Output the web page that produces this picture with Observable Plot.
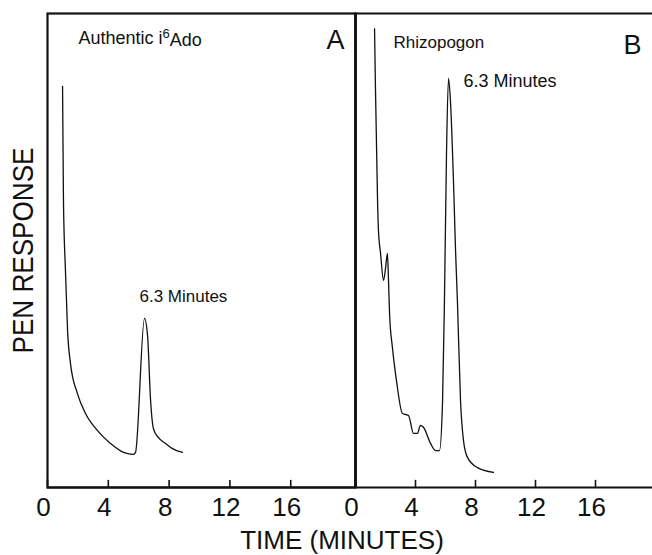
<!DOCTYPE html>
<html>
<head>
<meta charset="utf-8">
<script src="https://cdn.jsdelivr.net/npm/d3@7"></script>
<script src="https://cdn.jsdelivr.net/npm/@observablehq/plot@0.6"></script>
<style>
  body { margin: 0; background: #fff; }
  #wrap { position: relative; width: 652px; height: 555px; font-family: "Liberation Sans", Arial, sans-serif; color: #111; overflow: hidden; }
  #wrap svg { position: absolute; top: 0; overflow: visible; }
  #xlabel { position: absolute; left: 192px; width: 300px; top: 527px; text-align: center; font-size: 26px; line-height: 26px; white-space: nowrap; }
</style>
</head>
<body>
<div id="wrap"><div id="xlabel"></div></div>
<script>
// ---- data ----
const timeA = [0.99, 1.05, 1.18, 1.32, 1.51, 1.97, 2.5, 3.29, 4.14, 5.0, 5.66, 5.79, 6.38, 6.58, 6.78, 6.97, 7.3, 7.76, 8.22, 8.88];
const respA = [84.6, 60.5, 45.8, 33.1, 26.2, 19.8, 15.6, 12.0, 9.3, 7.4, 7.0, 7.4, 35.7, 32.1, 18.4, 12.4, 10.5, 9.3, 8.2, 7.4];

const timeB = [1.27, 1.33, 1.47, 1.53, 1.67, 1.87, 2.0, 2.13, 2.2, 2.27, 2.47, 2.73, 3.13, 3.53, 3.87, 4.13, 4.33, 4.53, 5.0, 5.33, 5.6, 5.8, 5.93, 6.07, 6.2, 6.33, 6.53, 6.67, 6.8, 7.0, 7.2, 7.47, 8.13, 9.2];
const respB = [96.8, 84.4, 60.5, 54.2, 49.4, 43.7, 46.2, 49.4, 43.7, 36.7, 29.3, 22.6, 15.6, 15.2, 11.4, 11.4, 13.1, 12.7, 9.3, 7.8, 7.8, 17.7, 39.5, 71.1, 86.3, 81.6, 64.8, 50.0, 38.8, 18.4, 9.9, 6.3, 4.2, 3.2];

const tickValues = [0, 4, 8, 12, 16];
const yRange = [0, 100];
const panelLetters = ["A", "B"];
const panelTitles = ["Authentic i6Ado", "Rhizopogon"];
const superscriptPart = {text: panelTitles[0], before: "Authentic i", sup: "6", after: "Ado"};
const peakLabel = "6.3 Minutes";
const yLabel = "PEN RESPONSE";
const xLabel = "TIME (MINUTES)";

const FONT = "\"Liberation Sans\", Arial, sans-serif";

const dataA = timeA.map((t, i) => ({t, v: respA[i]}));
const dataB = timeB.map((t, i) => ({t, v: respB[i]}));
const peakA = d3.greatest(dataA.filter(d => d.t > 4), d => d.v);
const peakB = d3.greatest(dataB.filter(d => d.t > 4), d => d.v);

function axisMarks() {
  return [
    Plot.ruleY([yRange[0]], {strokeWidth: 2.2, stroke: "#111"}),
    Plot.ruleX(tickValues, {y1: 0, y2: 1.5, strokeWidth: 1.6, stroke: "#111"}),
    Plot.axisX(tickValues, {tickSize: 0, tickPadding: 10, fontSize: 26, dx: -4, tickFormat: d => String(d), label: null, fill: "#111"})
  ];
}

const common = {
  height: 555,
  marginTop: 13,
  marginBottom: 68,
  y: {domain: yRange, axis: null},
  style: {background: "transparent", fontFamily: FONT, overflow: "visible"}
};

const plotA = Plot.plot({
  ...common,
  width: 355,
  marginLeft: 47,
  marginRight: 0,
  x: {domain: [0, 20.26]},
  marks: [
    Plot.frame({stroke: "#111", strokeWidth: 2.2}),
    ...axisMarks(),
    Plot.line(dataA, {x: "t", y: "v", curve: "monotone-x", strokeWidth: 1.3, stroke: "#111"}),
    Plot.text([peakA], {x: "t", y: "v", text: () => peakLabel, textAnchor: "start", lineAnchor: "bottom", dx: -5, dy: -16, fontSize: 17, fill: "#111"}),
    Plot.text([panelTitles[0]], {text: d => d, frameAnchor: "top-left", textAnchor: "start", lineAnchor: "bottom", dx: 31, dy: 30, fontSize: 18, fill: "#111"}),
    Plot.text([panelLetters[0]], {text: d => d, frameAnchor: "top-right", textAnchor: "end", lineAnchor: "bottom", dx: -11, dy: 35, fontSize: 27, fill: "#111"}),
    Plot.text([yLabel], {text: d => d, frameAnchor: "left", rotate: -90, textAnchor: "middle", lineAnchor: "middle", dx: -24, fontSize: 30, fill: "#111"})
  ]
});

const plotB = Plot.plot({
  ...common,
  width: 299,
  marginLeft: 2,
  marginRight: 0,
  x: {domain: [0, 19.8]},
  marks: [
    Plot.frame({anchor: "top", stroke: "#111", strokeWidth: 2.2}),
    ...axisMarks(),
    Plot.ruleX([0], {strokeWidth: 2.8, stroke: "#111"}),
    Plot.line(dataB, {x: "t", y: "v", curve: "monotone-x", strokeWidth: 1.3, stroke: "#111"}),
    Plot.text([peakB], {x: "t", y: "v", text: () => peakLabel, textAnchor: "start", lineAnchor: "bottom", dx: 15, dy: 9, fontSize: 18, fill: "#111"}),
    Plot.text([panelTitles[1]], {text: d => d, frameAnchor: "top-left", textAnchor: "start", lineAnchor: "bottom", dx: 38, dy: 34, fontSize: 17, fill: "#111"}),
    Plot.text([panelLetters[1]], {text: d => d, frameAnchor: "top-right", textAnchor: "end", lineAnchor: "bottom", dx: -11, dy: 40, fontSize: 27, fill: "#111"})
  ]
});

// condense the y label and set the superscript in the title
d3.select(plotA).selectAll("text").each(function () {
  if (this.textContent === yLabel) {
    this.setAttribute("textLength", 206);
    this.setAttribute("lengthAdjust", "spacingAndGlyphs");
  } else if (this.textContent === superscriptPart.text) {
    const el = d3.select(this);
    el.text(null);
    el.append("tspan").text(superscriptPart.before);
    el.append("tspan").attr("dy", "-0.4em").attr("font-size", 13).text(superscriptPart.sup);
    el.append("tspan").attr("dy", "0.4em").text(superscriptPart.after);
  }
});

const wrap = document.getElementById("wrap");
plotA.style.position = "absolute"; plotA.style.left = "0px"; plotA.style.top = "0px";
plotB.style.position = "absolute"; plotB.style.left = "353px"; plotB.style.top = "0px";
wrap.appendChild(plotA);
wrap.appendChild(plotB);
document.getElementById("xlabel").textContent = xLabel;
</script>
</body>
</html>
